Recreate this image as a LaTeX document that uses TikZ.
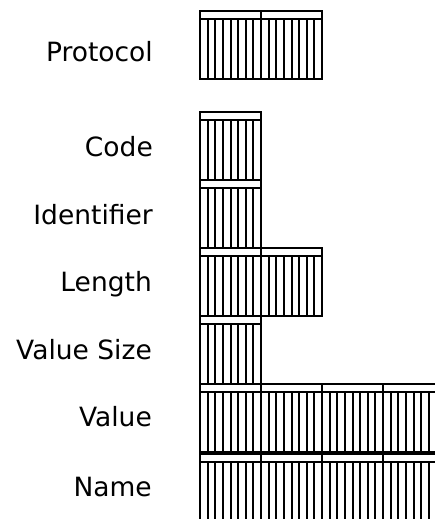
\documentclass[tikz,border=0pt]{standalone}
\usepackage{fontspec}
\setmainfont{DejaVu Sans}
\usepackage{tikz}

\tikzset{
  bitline/.style={line width=2pt, black},
  fieldlabel/.style={anchor=base east, inner sep=0pt, font=\fontsize{26.5}{30}\selectfont},
}

% one byte: outline, header strip and 8 bit cells
\newcommand{\bytebox}[2]{%
  \draw[bitline] (#1,#2) rectangle ++(61,68);
  \draw[bitline] (#1,#2) ++(0,8) -- ++(61,0);
  \foreach \k in {1,...,7}
    \draw[bitline] (#1,#2) ++({round(\k*7.625)},8) -- ++(0,60);
}

\begin{document}
\begin{tikzpicture}[x=1pt, y=-1pt]
  \useasboundingbox (0,0) rectangle (435,519);
  \clip (0,0) rectangle (435,519);

  \node[fieldlabel] (protocol) at (153,62) {Protocol};
  \node[fieldlabel] (code) at (153,156) {Code};
  \node[fieldlabel] (identifier) at (153,224) {Identifier};
  \node[fieldlabel] (length) at (152,291) {Length};
  \node[fieldlabel] (valuesize) at (152,359) {Value Size};
  \node[fieldlabel] (value) at (152,426) {Value};
  \node[fieldlabel] (name) at (152,496) {Name};

  \foreach \i in {0,1} {\bytebox{200+\i*61}{11}}
  \bytebox{200}{112}
  \bytebox{200}{180}
  \foreach \i in {0,1} {\bytebox{200+\i*61}{248}}
  \bytebox{200}{316}
  \foreach \i in {0,...,3} {\bytebox{200+\i*61}{384}}
  \foreach \i in {0,...,3} {\bytebox{200+\i*61}{454}}
\end{tikzpicture}
\end{document}
